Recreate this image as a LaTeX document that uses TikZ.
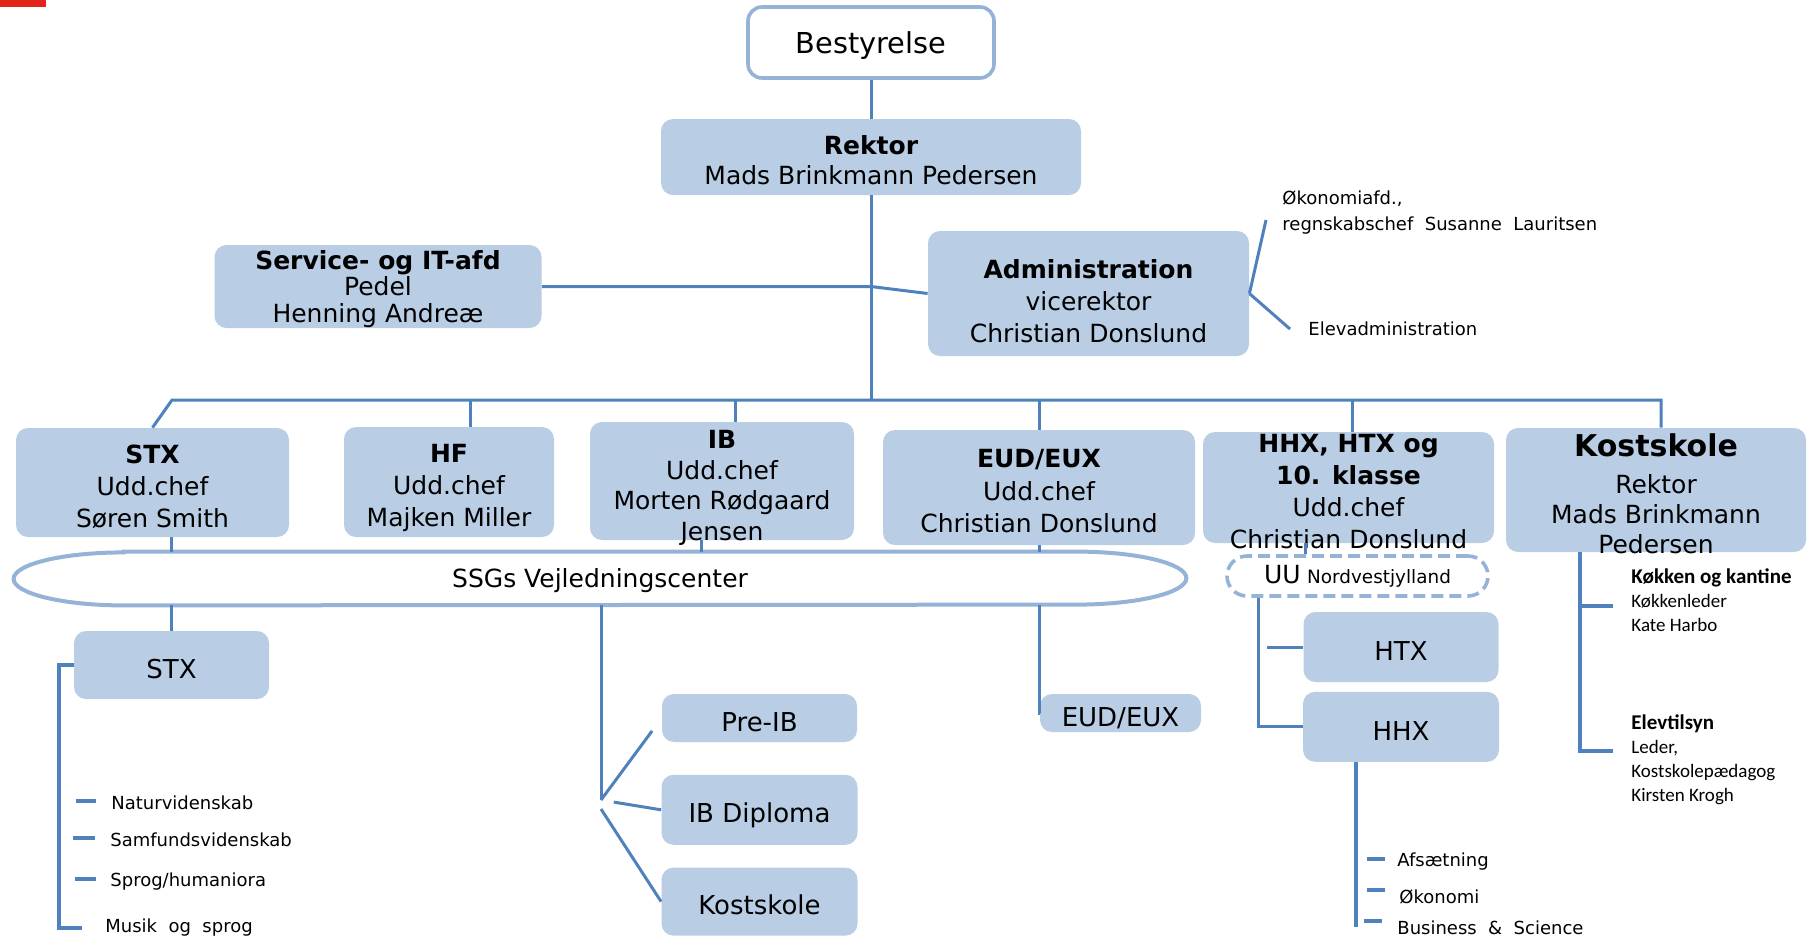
\documentclass[tikz,border=0pt]{standalone}
\usepackage{fontspec}
\setmainfont{DejaVu Sans}
\newfontfamily\calfont{Carlito}
\usetikzlibrary{positioning,backgrounds}
\definecolor{boxfill}{HTML}{B9CDE5}
\definecolor{linecol}{HTML}{4F81BD}
\definecolor{rimcol}{HTML}{95B3D7}
\definecolor{logored}{HTML}{E2231A}

\begin{document}
\begin{tikzpicture}[x=0.5pt, y=-0.5pt,
  unit/.style={fill=boxfill, rounded corners=6pt, align=center, inner xsep=2pt, inner ysep=-4pt, font={\fontsize{12.5}{16}\selectfont}},
  subunit/.style={fill=boxfill, rounded corners=6pt, inner sep=1pt, font={\fontsize{13}{15}\selectfont}, execute at begin node={\rule{0pt}{#1}}},
  subunit/.default=13.5pt,
  link/.style={draw=linecol, line width=1.5pt},
  tick/.style={draw=linecol, line width=2.2pt},
  note/.style={anchor=west, inner sep=0pt, font={\fontsize{9}{13}\selectfont}},
  side/.style={anchor=north west, inner sep=0pt, align=left, font={\calfont\fontsize{9.5}{12}\selectfont}}]
\useasboundingbox (0,0) rectangle (1818,944);
\fill[logored] (0,0) rectangle (46,7);

\node[draw=rimcol, line width=1.8pt, fill=white, rounded corners=7pt, minimum width=123pt, minimum height=35.5pt, font={\fontsize{14.4}{16}\selectfont}] (board) at (871,42.5) {\rule{0pt}{14.4pt}Bestyrelse};
\node[unit, minimum width=210pt, minimum height=38pt, font={\fontsize{12.5}{15}\selectfont}] (rektor) at (871,157) {\rule{0pt}{12.4pt}\textbf{Rektor}\\Mads Brinkmann Pedersen};
\node[unit, minimum width=163.5pt, minimum height=41.5pt, font={\fontsize{12.5}{13.3}\selectfont}] (service) at (378,286.5) {\rule{0pt}{11.8pt}\textbf{Service- og IT-afd}\\Pedel\\Henning Andreæ};
\node[unit, minimum width=160.5pt, minimum height=62.5pt] (admin) at (1088.5,293.5) {\rule{0pt}{17.6pt}\textbf{Administration}\\vicerektor\\Christian Donslund};

\node[unit, minimum width=136.5pt, minimum height=54.5pt] (stx) at (152.5,482.5) {\rule{0pt}{13.1pt}\textbf{STX}\\Udd.chef\\Søren Smith};
\node[unit, minimum width=105pt, minimum height=55pt] (hf) at (449,482) {\rule{0pt}{14.9pt}\textbf{HF}\\Udd.chef\\Majken Miller};
\node[unit, minimum width=132pt, minimum height=59pt, font={\fontsize{12.5}{15.3}\selectfont}] (ib) at (722,481) {\rule{0pt}{16.1pt}\textbf{IB}\\Udd.chef\\Morten Rødgaard\\Jensen};
\node[unit, minimum width=156pt, minimum height=57.5pt, font={\fontsize{12.5}{16.3}\selectfont}] (eud) at (1039,487.5) {\rule{0pt}{13pt}\textbf{EUD/EUX}\\Udd.chef\\Christian Donslund};
\node[unit, minimum width=145.5pt, minimum height=55.5pt] (hhx) at (1348.5,487.5) {\rule{0pt}{13.1pt}\textbf{HHX, HTX og}\\\textbf{10. klasse}\\Udd.chef\\Christian Donslund};
\node[unit, minimum width=150pt, minimum height=62pt, font={\fontsize{12.5}{14.8}\selectfont}] (kost) at (1656,490) {\rule{0pt}{14.9pt}{\fontsize{15}{15}\selectfont\textbf{Kostskole}}\\[4pt]Rektor\\Mads Brinkmann\\Pedersen};

\node[minimum width=586pt, minimum height=26.5pt, inner sep=0pt, font={\fontsize{12.5}{15}\selectfont}] (vc) at (600,578.5) {\rule{0pt}{11.8pt}SSGs Vejledningscenter};
\begin{scope}[on background layer]
\draw[draw=rimcol, line width=2pt, fill=white] ([xshift=55pt]vc.north west) -- ([xshift=-55pt]vc.north east)
  arc[start angle=90, end angle=-90, x radius=55pt, y radius=13.25pt] -- ([xshift=55pt]vc.south west)
  arc[start angle=270, end angle=90, x radius=55pt, y radius=13.25pt] -- cycle;
\end{scope}
\node[draw=rimcol, dash pattern=on 6pt off 3pt, line width=1.8pt, rounded corners=10pt, minimum width=130.5pt, minimum height=20pt, inner sep=0pt] (uu) at (1357.5,576) {{\fontsize{12.5}{14}\selectfont UU} {\fontsize{9.2}{11}\selectfont Nordvestjylland}};

\node[subunit, minimum width=97.5pt, minimum height=34pt] (stxsub) at (171.5,665) {STX};
\node[subunit=14pt, minimum width=97.5pt, minimum height=24pt] (preib) at (759.5,718) {Pre-IB};
\node[subunit=15.5pt, minimum width=98pt, minimum height=35pt, below=16pt of preib] (ibdip) {IB Diploma};
\node[subunit, minimum width=98pt, minimum height=34pt, below=11pt of ibdip] (kostsub) {Kostskole};
\node[subunit=14.5pt, minimum width=80.5pt, minimum height=19pt] (eudsub) at (1120.5,713) {EUD/EUX};
\node[subunit, minimum width=97.5pt, minimum height=35pt] (htxsub) at (1401,647) {HTX};
\node[subunit, minimum width=98pt, minimum height=35pt, below=4.5pt of htxsub] (hhxsub) {HHX};

\coordinate (hub) at (871,400);
\coordinate (busL) at (172,400);
\coordinate (busR) at (1661,400);
\coordinate (ibfork) at (601,800);

\draw[link] (board) -- (rektor);
\draw[link] (rektor) -- (hub);
\draw[link] (service.east) -- (service.east -| hub) -- (admin.west);
\draw[link] (stx.north) -- (busL) -- (busR) -- (busR |- kost.north);
\foreach \x/\n in {470/hf, 735/ib, 1039/eud, 1352/hhx}
  \draw[link] (\x,400) -- (\x,400 |- \n.north);

\draw[link] (stxsub.north |- stx.south) -- (stxsub.north |- vc.north);
\draw[link] (701,0 |- ib.south) -- (701,0 |- vc.north);
\draw[link] (eud.south) -- (eud.south |- vc.north);
\draw[link] (1305,0 |- hhx.south) -- (1305,0 |- uu.north);

\draw[link] (stxsub.north |- vc.south) -- (stxsub.north);
\draw[link] (ibfork |- vc.south) -- (ibfork);
\draw[link, shorten >=8pt] (ibfork) -- (preib.west);
\draw[link, shorten <=6.5pt] (ibfork) -- (ibdip.west);
\draw[link] ([yshift=-4.5pt]ibfork) -- (kostsub.west);
\draw[link] (eud.south |- vc.south) |- (eudsub.west);
\draw[link] (1258,0 |- uu.south) |- (hhxsub.west);
\draw[link] (htxsub.west) -- ++(-36,0);

\draw[link] (admin.east) -- (1266,220);
\draw[link] (admin.east) -- (1290,329);
\node[note, anchor=north west, align=left] (oko) at (1282,190) {Økonomiafd.,\\regnskabschef~~Susanne~~Lauritsen};
\node[note] (elev) at (1308,329) {Elevadministration};

\draw[link, line width=2pt] (stxsub.west) -| (59,928) -- (82,928);
\node[note] (natur) at (111,803) {Naturvidenskab};
\node[note] (samf) at (110,840) {Samfundsvidenskab};
\node[note] (sprog) at (110,882) {Sprog/humaniora};
\node[note] (musik) at (105,928) {Musik~~og~~sprog};
\draw[tick] (76,801) -- (96,801);
\draw[tick] (73,838) -- (95,838);
\draw[tick] (75,879) -- (96,879);

\draw[link, line width=2pt] (1356,0 |- hhxsub.south) -- (1356,927);
\node[note] (afs) at (1397,862) {Afsætning};
\node[note] (oek) at (1399,897) {Økonomi};
\node[note] (bus) at (1397,928) {Business~~\&~~Science};
\draw[tick] (1367,859) -- (1385,859);
\draw[tick] (1367,890) -- (1385,890);
\draw[tick] (1364,921) -- (1382,921);

\draw[link, line width=2pt] (1580,0 |- kost.south) |- (1613,751);
\draw[link, line width=2pt] (1580,606) -- (1613,606);
\node[side] (kitchen) at (1631,568) {{\fontsize{10.5}{12}\selectfont\bfseries Køkken og kantine}\\Køkkenleder\\Kate Harbo};
\node[side] (watch) at (1631,714) {{\fontsize{10.5}{12}\selectfont\bfseries Elevtilsyn}\\Leder,\\Kostskolepædagog\\Kirsten Krogh};
\end{tikzpicture}
\end{document}
